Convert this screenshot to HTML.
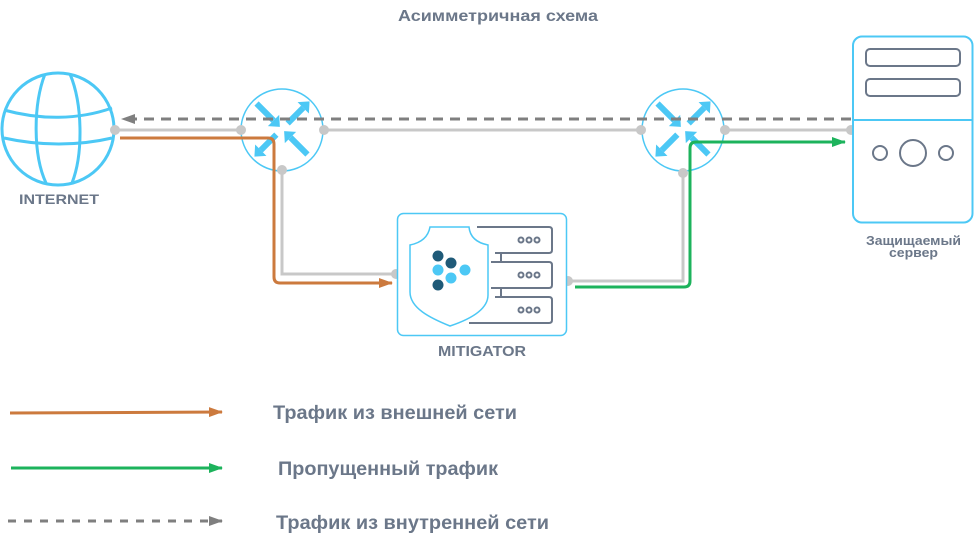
<!DOCTYPE html>
<html><head><meta charset="utf-8"><style>
html,body{margin:0;padding:0;background:#fff;width:974px;height:540px;overflow:hidden}
svg text{font-family:"Liberation Sans",sans-serif;font-weight:bold;fill:#6b7789}
</style></head><body>
<svg width="974" height="540" viewBox="0 0 974 540" xmlns="http://www.w3.org/2000/svg">
<defs>
<marker id="ao" markerWidth="14" markerHeight="10" refX="13" refY="5" orient="auto" markerUnits="userSpaceOnUse" viewBox="0 0 14 10"><path d="M0,0 L14,5 L0,10 Z" fill="#cc7a3e"/></marker>
<marker id="ag" markerWidth="14" markerHeight="10" refX="13" refY="5" orient="auto" markerUnits="userSpaceOnUse" viewBox="0 0 14 10"><path d="M0,0 L14,5 L0,10 Z" fill="#1db35c"/></marker>
<marker id="ad" markerWidth="14" markerHeight="10" refX="13" refY="5" orient="auto" markerUnits="userSpaceOnUse" viewBox="0 0 14 10"><path d="M0,0 L14,5 L0,10 Z" fill="#7f7f7f"/></marker>
<g id="rarrows" fill="#4cc8f5" stroke="none">
<g transform="rotate(45)"><rect x="-36" y="-3" width="24" height="6"/><path d="M-12,-8 L-3,0 L-12,8 Z"/></g>
<g transform="rotate(-45)"><rect x="8" y="-3" width="22" height="6"/><path d="M30,-8 L39,0 L30,8 Z"/></g>
<g transform="rotate(135)"><rect x="8" y="-3" width="22" height="6"/><path d="M30,-8 L39,0 L30,8 Z"/></g>
<g transform="rotate(-135)"><rect x="-36" y="-3" width="24" height="6"/><path d="M-12,-8 L-3,0 L-12,8 Z"/></g>
</g>
</defs>

<text x="398" y="21" font-size="16" textLength="200" lengthAdjust="spacingAndGlyphs">Асимметричная схема</text>

<!-- globe -->
<g fill="none" stroke="#4cc8f5" stroke-width="3">
<circle cx="58" cy="129" r="56"/>
<path d="M45,74 C33,105 33,155 46,183"/>
<path d="M70,74 C83,105 83,155 72,183"/>
<path d="M4,110 C40,120 78,120 112,108"/>
<path d="M4,138 C40,146 78,146 112,138"/>
</g>
<text x="19" y="204" font-size="14" textLength="80" lengthAdjust="spacingAndGlyphs">INTERNET</text>

<!-- gray lines -->
<g fill="none" stroke="#c8c8c8" stroke-width="3">
<line x1="115" y1="130" x2="241" y2="130"/>
<line x1="324" y1="130" x2="641" y2="130"/>
<line x1="725" y1="130" x2="851" y2="130"/>
<path d="M282,170 L282,274 L396,274"/>
<path d="M567,281 L683,281 L683,172"/>
</g>

<!-- routers -->
<circle cx="282" cy="130" r="41" fill="#fff" stroke="#4cc8f5" stroke-width="1.5"/>
<circle cx="683" cy="130" r="41" fill="#fff" stroke="#4cc8f5" stroke-width="1.5"/>
<use href="#rarrows" transform="translate(282,129)"/>
<use href="#rarrows" transform="translate(683,129)"/>

<!-- dashed -->
<line x1="851" y1="119" x2="122" y2="119" stroke="#7f7f7f" stroke-width="3" stroke-dasharray="10,7" marker-end="url(#ad)"/>

<!-- orange -->
<path d="M120,138 L268,138 Q274,138 274,144 L274,277 Q274,283 280,283 L392,283" fill="none" stroke="#cc7a3e" stroke-width="3" marker-end="url(#ao)"/>
<!-- green -->
<path d="M575,287 L684,287 Q690,287 690,281 L690,148 Q690,142 696,142 L845,142" fill="none" stroke="#1db35c" stroke-width="3" marker-end="url(#ag)"/>

<!-- dots -->
<g fill="#c8c8c8">
<circle cx="115" cy="130" r="5"/><circle cx="241" cy="130" r="5"/><circle cx="324" cy="130" r="5"/>
<circle cx="641" cy="130" r="5"/><circle cx="725" cy="130" r="5"/><circle cx="851" cy="130" r="5"/>
<circle cx="282" cy="170" r="5"/><circle cx="683" cy="173" r="5"/>
<circle cx="396" cy="274" r="5"/><circle cx="568" cy="281" r="5"/>
</g>

<!-- mitigator -->
<rect x="397.5" y="213.5" width="169" height="122" rx="6" fill="#fff" stroke="#4cc8f5" stroke-width="1.5"/>
<path d="M430,227 L469,227 C470,238 478,243 488,245 L488,295 C488,310 468,320 450,326 C430,318 410,308 410,292 L410,245 C420,243 428,238 430,227 Z" fill="none" stroke="#4cc8f5" stroke-width="1.5"/>
<g fill="#1f5a78"><circle cx="438" cy="256" r="5.5"/><circle cx="451" cy="263" r="5.5"/><circle cx="438" cy="285" r="5.5"/></g>
<g fill="#4cc8f5"><circle cx="438" cy="270" r="5.5"/><circle cx="451" cy="278" r="5.5"/><circle cx="465" cy="270" r="5.5"/></g>
<g fill="none" stroke="#6b7789" stroke-width="2">
<path d="M477,227 L549,227 Q552,227 552,230 L552,250 Q552,253 549,253 L495,253"/>
<path d="M501,253 L501,262"/>
<path d="M491,262 L549,262 Q552,262 552,265 L552,285 Q552,288 549,288 L491,288"/>
<path d="M501,288 L501,297"/>
<path d="M495,297 L549,297 Q552,297 552,300 L552,320 Q552,323 549,323 L469,323"/>
<circle cx="521" cy="240" r="2.5"/><circle cx="529" cy="240" r="2.5"/><circle cx="537" cy="240" r="2.5"/>
<circle cx="521" cy="275" r="2.5"/><circle cx="529" cy="275" r="2.5"/><circle cx="537" cy="275" r="2.5"/>
<circle cx="521" cy="310" r="2.5"/><circle cx="529" cy="310" r="2.5"/><circle cx="537" cy="310" r="2.5"/>
</g>
<text x="438" y="356" font-size="15" textLength="88" lengthAdjust="spacingAndGlyphs">MITIGATOR</text>

<!-- server -->
<rect x="853" y="36.5" width="119.5" height="186" rx="9" fill="#fff" stroke="#4cc8f5" stroke-width="2"/>
<line x1="853" y1="120" x2="972" y2="120" stroke="#4cc8f5" stroke-width="2"/>
<g fill="none" stroke="#6b7789" stroke-width="2">
<rect x="866" y="49" width="94" height="17" rx="4"/>
<rect x="866" y="79" width="94" height="17" rx="4"/>
<circle cx="880" cy="153" r="7"/><circle cx="913" cy="153" r="13"/><circle cx="946" cy="153" r="7"/>
</g>
<text x="866" y="245" font-size="13" textLength="95" lengthAdjust="spacingAndGlyphs">Защищаемый</text>
<text x="889" y="257" font-size="13" textLength="49" lengthAdjust="spacingAndGlyphs">сервер</text>

<!-- legend -->
<line x1="10" y1="413" x2="222" y2="412" stroke="#cc7a3e" stroke-width="3" marker-end="url(#ao)"/>
<line x1="11" y1="468" x2="222" y2="468" stroke="#1db35c" stroke-width="3" marker-end="url(#ag)"/>
<line x1="8" y1="521" x2="222" y2="521" stroke="#7f7f7f" stroke-width="3" stroke-dasharray="8,8" marker-end="url(#ad)"/>
<text x="273" y="419" font-size="19" textLength="244" lengthAdjust="spacingAndGlyphs">Трафик из внешней сети</text>
<text x="278" y="475" font-size="19" textLength="220" lengthAdjust="spacingAndGlyphs">Пропущенный трафик</text>
<text x="276" y="529" font-size="19" textLength="273" lengthAdjust="spacingAndGlyphs">Трафик из внутренней сети</text>
</svg>
</body></html>
